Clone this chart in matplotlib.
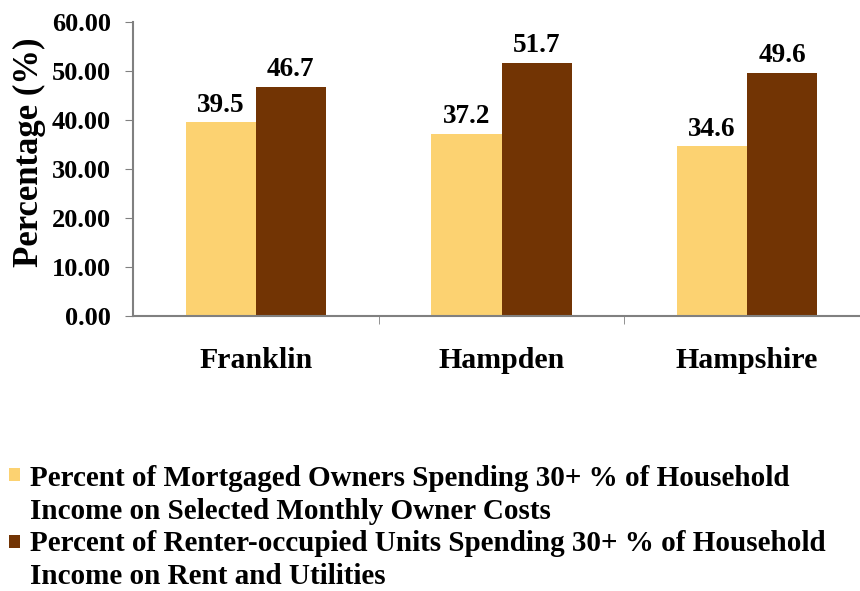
import matplotlib.pyplot as plt
import numpy as np
from matplotlib.patches import Rectangle

# data ----------------------------------------------------------------------------------------------------------
counties = ['Franklin', 'Hampden', 'Hampshire']
owners = [39.5, 37.2, 34.6]
renters = [46.7, 51.7, 49.6]
owner_label = 'Percent of Mortgaged Owners Spending 30+ % of Household\nIncome on Selected Monthly Owner Costs'
renter_label = 'Percent of Renter-occupied Units Spending 30+ % of Household\nIncome on Rent and Utilities'

owner_color = '#FCD271'
renter_color = '#723404'
axis_color = '#808080'

plt.rcParams['font.family'] = ['Liberation Serif', 'DejaVu Serif']
plt.rcParams['font.weight'] = 'bold'

W, H = 860, 591
fig = plt.figure(figsize=(8.6, 5.91), dpi=100)
ax = fig.add_axes([133/W, 275/H, 737/W, 294/H])

x = np.arange(len(counties))
w = 0.285
b1 = ax.bar(x - w/2, owners, w, color=owner_color)
b2 = ax.bar(x + w/2, renters, w, color=renter_color)

for bars in (b1, b2):
    for r in bars:
        ax.text(r.get_x() + r.get_width()/2, r.get_height() + 1.0, f'{r.get_height():.1f}',
                ha='center', va='bottom', fontsize=19.5, fontweight='bold')

ax.set_xlim(-0.5, 2.5)
ax.set_ylim(0, 60)
ax.set_yticks(np.arange(0, 61, 10))
ax.set_yticklabels([f'{v:.2f}' for v in np.arange(0, 61, 10)], fontsize=19, fontweight='bold')
ax.set_xticks(x)
ax.set_xticklabels(counties, fontsize=21.5, fontweight='bold')
ax.set_xticks([0.5, 1.5], minor=True)
ax.tick_params(axis='x', which='major', length=0, pad=22)
ax.tick_params(axis='x', which='minor', length=6, direction='out', color=axis_color)
ax.tick_params(axis='y', length=6, direction='out', color=axis_color, pad=10)
ax.set_ylabel('Percentage (%)', fontsize=25, fontweight='bold')
ax.yaxis.set_label_coords(-0.118, 0.558)

for s in ['top', 'right']:
    ax.spines[s].set_visible(False)
for s in ['left', 'bottom']:
    ax.spines[s].set_color(axis_color)
    ax.spines[s].set_linewidth(1.5)

# legend drawn by hand so the square sits on the first line of each entry
# (square top, baseline of last text line) in pixels from the top
for label, color, sq_top, base in [(owner_label, owner_color, 468, 519),
                                    (renter_label, renter_color, 535, 584)]:
    fig.patches.append(Rectangle((9/W, 1 - (sq_top + 13)/H), 11/W, 13/H, transform=fig.transFigure,
                                 facecolor=color, edgecolor='none'))
    fig.text(30/W, 1 - base/H, label, ha='left', va='baseline', fontsize=21, fontweight='bold',
             linespacing=1.3)

plt.savefig('out.png', dpi=100)
